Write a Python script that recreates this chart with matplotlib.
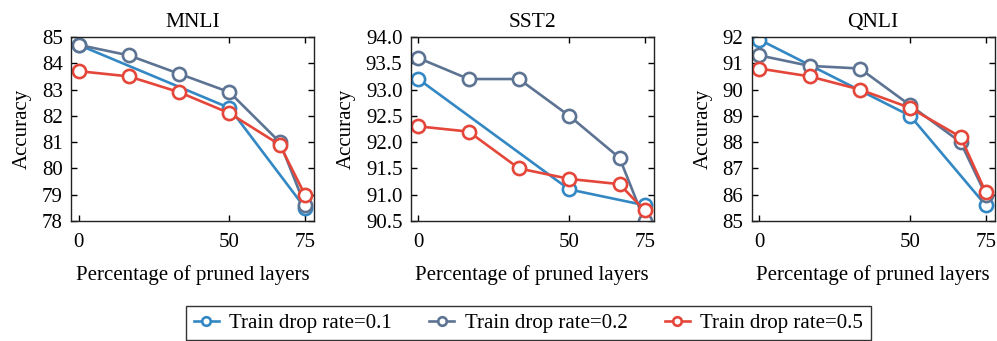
import numpy as np
import matplotlib
matplotlib.use("Agg")
import matplotlib.pyplot as plt

plt.rcParams['font.family'] = ['Liberation Serif', 'DejaVu Serif']
plt.rcParams['mathtext.fontset'] = 'stix'

# pruned layer percentages (0, 2, 4, 6, 8, 9 of 12 layers)
x_full = [0, 16.67, 33.33, 50, 66.67, 75]
x_short = [0, 50, 75]

tasks = ["MNLI", "SST2", "QNLI"]

mnli_01 = [84.7, 82.3, 78.5]
mnli_02 = [84.7, 84.3, 83.6, 82.9, 81.0, 78.6]
mnli_05 = [83.7, 83.5, 82.9, 82.1, 80.9, 79.0]

sst2_01 = [93.2, 91.1, 90.8]
sst2_02 = [93.6, 93.2, 93.2, 92.5, 91.7, 90.5]
sst2_05 = [92.3, 92.2, 91.5, 91.3, 91.2, 90.7]

qnli_01 = [91.9, 89.0, 85.6]
qnli_02 = [91.3, 90.9, 90.8, 89.4, 88.0, 86.0]
qnli_05 = [90.8, 90.5, 90.0, 89.3, 88.2, 86.1]

labels = ["Train drop rate=0.1", "Train drop rate=0.2", "Train drop rate=0.5"]
colors = ["#3388c4", "#5d7393", "#e5463a"]

data = [(mnli_01, mnli_02, mnli_05), (sst2_01, sst2_02, sst2_05), (qnli_01, qnli_02, qnli_05)]
ylims = [(78, 85), (90.5, 94.0), (85, 92)]
yticks = [np.arange(78, 85.1, 1), np.arange(90.5, 94.01, 0.5), np.arange(85, 92.1, 1)]
yfmt = ["{:.0f}", "{:.1f}", "{:.0f}"]
lefts = [0.0712, 0.412, 0.754]

fig = plt.figure(figsize=(9.97, 3.41), dpi=100)

handles = []
for i, task in enumerate(tasks):
    ax = fig.add_axes([lefts[i], 0.352, 0.2437, 0.5396])
    d01, d02, d05 = data[i]
    h1, = ax.plot(x_short, d01, '-o', color=colors[0], lw=1.9, ms=9.5, mew=1.9, mfc='white', label=labels[0])
    h2, = ax.plot(x_full, d02, '-o', color=colors[1], lw=1.9, ms=9.5, mew=1.9, mfc='white', label=labels[1])
    h3, = ax.plot(x_full, d05, '-o', color=colors[2], lw=1.9, ms=9.5, mew=1.9, mfc='white', label=labels[2])
    handles = [h1, h2, h3]

    ax.set_xlim(-2.5, 78)
    ax.set_ylim(*ylims[i])
    ax.set_xticks([0, 50, 75])
    ax.set_yticks(yticks[i])
    ax.set_yticklabels([yfmt[i].format(v) for v in yticks[i]])
    ax.tick_params(direction='in', top=True, right=True, labelsize=15, length=4, width=1)
    ax.tick_params(axis='x', pad=9)
    ax.tick_params(axis='y', pad=6)
    for s in ax.spines.values():
        s.set_linewidth(1.0)
        s.set_color('#222222')
    ax.set_title(task, fontsize=15.5, pad=7)
    ax.set_ylabel("Accuracy", fontsize=15, labelpad=7)
    ax.set_xlabel("Percentage of pruned layers", fontsize=15, labelpad=9)

leg = fig.legend(handles, labels, loc='upper center', bbox_to_anchor=(0.53, 0.1026), ncol=3,
                 fontsize=15, frameon=True, fancybox=False, edgecolor='black',
                 handlelength=1.2, handletextpad=0.5, columnspacing=1.8,
                 markerscale=0.65, borderpad=0.35, borderaxespad=0)
leg.get_frame().set_linewidth(1.0)

fig.savefig("out.png", dpi=100)
